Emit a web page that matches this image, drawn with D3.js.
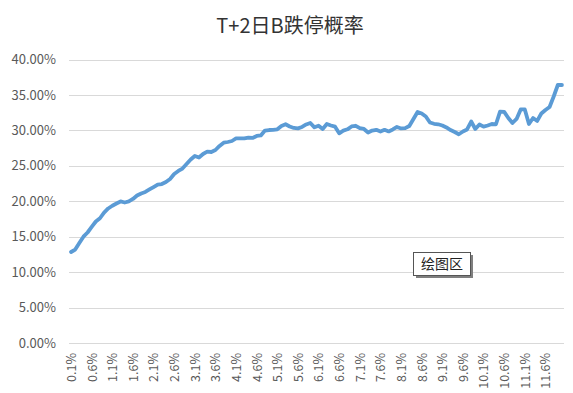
<!DOCTYPE html>
<html>
<head>
<meta charset="utf-8">
<script src="https://cdn.jsdelivr.net/npm/d3@7"></script>
<style>
  body { margin: 0; background: #fff; }
  svg text { font-family: "Noto Sans CJK SC", "DejaVu Sans", sans-serif; }
</style>
</head>
<body>
<div id="chart"></div>
<script>
// categories: 0.1% .. 12.0%
var categories = [];
for (var k = 1; k <= 120; k++) categories.push((k / 10).toFixed(1) + '%');

// probability values (%)
var values = [
  12.84, 13.19, 14.11, 15.00, 15.59, 16.37, 17.14, 17.60, 18.41, 18.98,
  19.37, 19.68, 19.97, 19.82, 19.97, 20.32, 20.81, 21.10, 21.31, 21.66,
  22.01, 22.36, 22.43, 22.72, 23.14, 23.85, 24.27, 24.62, 25.26, 25.89,
  26.39, 26.17, 26.67, 26.99, 26.95, 27.23, 27.80, 28.26, 28.36, 28.50,
  28.86, 28.88, 28.88, 28.99, 28.93, 29.21, 29.28, 29.98, 30.05, 30.08,
  30.15, 30.62, 30.86, 30.55, 30.34, 30.29, 30.48, 30.83, 31.04, 30.43,
  30.66, 30.20, 30.90, 30.69, 30.52, 29.59, 29.96, 30.15, 30.55, 30.65,
  30.31, 30.20, 29.70, 29.98, 30.08, 29.83, 30.08, 29.85, 30.13, 30.48,
  30.27, 30.31, 30.62, 31.61, 32.60, 32.38, 31.96, 31.11, 30.93, 30.86,
  30.69, 30.41, 30.05, 29.77, 29.45, 29.84, 30.13, 31.25, 30.20, 30.83,
  30.52, 30.69, 30.90, 30.86, 32.64, 32.60, 31.75, 31.04, 31.61, 32.95,
  32.95, 30.90, 31.75, 31.33, 32.38, 32.88, 33.30, 34.78, 36.40, 36.40
];

var yTicks = [0, 5, 10, 15, 20, 25, 30, 35, 40];
var xTickLabels = categories.filter(function(d, i) { return i % 5 === 0; });

var title = 'T+2日B跌停概率';
var plotLabel = '绘图区';

var width = 573, height = 393;
var margin = {top: 59.5, right: 9, bottom: 50, left: 69};

var svg = d3.select('#chart')
  .append('svg')
    .attr('width', width)
    .attr('height', height);

var x = d3.scalePoint()
  .domain(categories)
  .range([margin.left, width - margin.right])
  .padding(0.5);

var y = d3.scaleLinear()
  .domain([0, 40])
  .range([height - margin.bottom, margin.top]);

// gridlines
svg.append('g')
  .selectAll('line')
  .data(yTicks)
  .enter().append('line')
    .attr('x1', margin.left)
    .attr('x2', width - margin.right)
    .attr('y1', function(d) { return Math.round(y(d)) + 0.5; })
    .attr('y2', function(d) { return Math.round(y(d)) + 0.5; })
    .attr('stroke', '#d9d9d9')
    .attr('stroke-width', 1);

// y axis labels
var yAxis = d3.axisLeft(y)
  .tickValues(yTicks)
  .tickSize(0)
  .tickPadding(13)
  .tickFormat(function(d) { return d.toFixed(2) + '%'; });

var gy = svg.append('g')
  .attr('transform', 'translate(' + margin.left + ',0)')
  .call(yAxis);
gy.select('.domain').remove();
gy.selectAll('text')
  .attr('fill', '#595959')
  .style('font-size', '13px');

// x axis labels
var xAxis = d3.axisBottom(x)
  .tickValues(xTickLabels)
  .tickSize(0);

var gx = svg.append('g')
  .attr('transform', 'translate(0,' + (height - margin.bottom) + ')')
  .call(xAxis);
gx.select('.domain').remove();
gx.selectAll('text')
  .attr('fill', '#595959')
  .style('font-size', '12.5px')
  .attr('text-anchor', 'end')
  .attr('transform', 'rotate(-90)')
  .attr('x', -10)
  .attr('y', 0)
  .attr('dy', '0.35em');

// line
var line = d3.line()
  .x(function(d, i) { return x(categories[i]); })
  .y(function(d) { return y(d); });

svg.append('path')
  .attr('d', line(values))
  .attr('fill', 'none')
  .attr('stroke', '#5b9bd5')
  .attr('stroke-width', 3.8)
  .attr('stroke-linejoin', 'round')
  .attr('stroke-linecap', 'round');

// title
svg.append('text')
  .attr('x', 290)
  .attr('y', 33)
  .attr('text-anchor', 'middle')
  .attr('fill', '#333')
  .style('font-size', '20px')
  .text(title);

// plot area tooltip
var tip = svg.append('g').attr('transform', 'translate(413,252)');
tip.append('rect')
  .attr('x', 3).attr('y', 3)
  .attr('width', 57).attr('height', 23)
  .attr('fill', '#7f7f7f');
tip.append('rect')
  .attr('x', 0.5).attr('y', 0.5)
  .attr('width', 57).attr('height', 23)
  .attr('fill', '#fff')
  .attr('stroke', '#555')
  .attr('stroke-width', 1);
tip.append('text')
  .attr('x', 29).attr('y', 17)
  .attr('text-anchor', 'middle')
  .attr('fill', '#222')
  .style('font-size', '14px')
  .text(plotLabel);
</script>
</body>
</html>
